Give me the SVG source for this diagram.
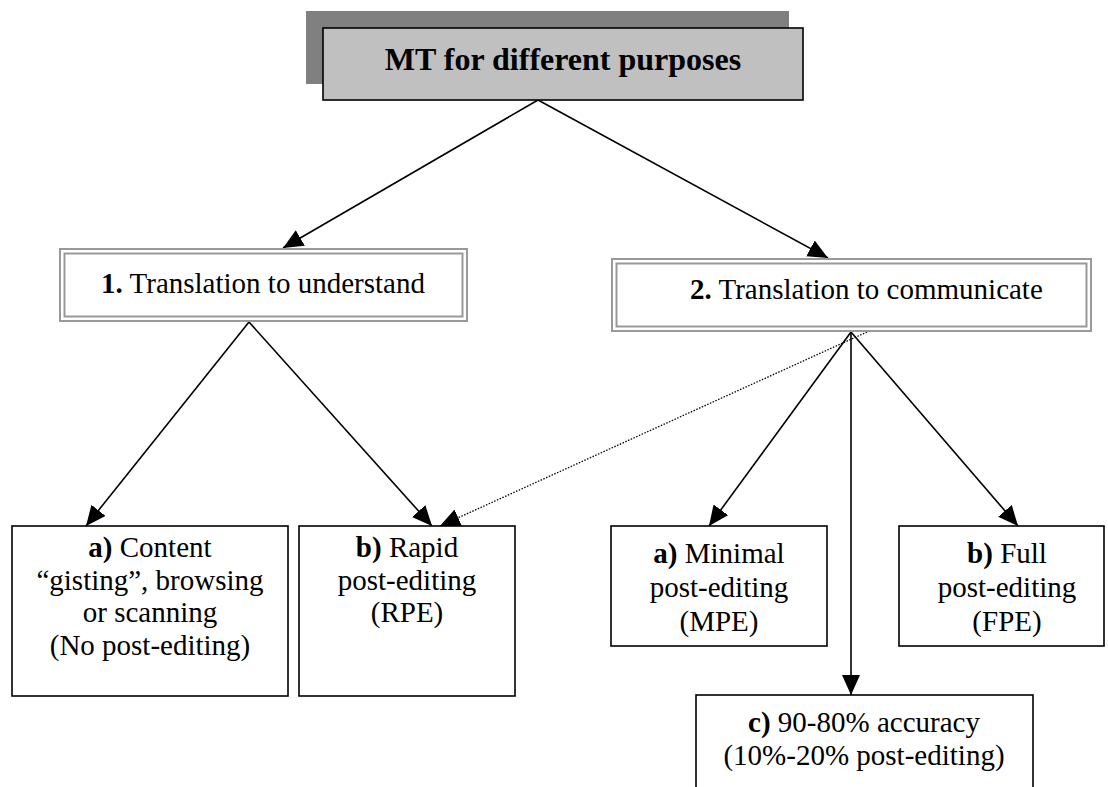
<svg xmlns="http://www.w3.org/2000/svg" width="1108" height="787" viewBox="0 0 1108 787">
<defs>
<style>
text{font-family:"Liberation Serif","Times New Roman",serif;font-size:29px;fill:#000;text-anchor:middle}
.b{font-weight:bold}
.box{fill:#fff;stroke:#000;stroke-width:1.6}
.dbl{fill:none;stroke:#999;stroke-width:2}
.ln{stroke:#000;stroke-width:1.6;fill:none}
.dot{stroke:#000;stroke-width:1.3;fill:none;stroke-dasharray:1.5 1.5}
</style>
<marker id="ah" markerUnits="userSpaceOnUse" markerWidth="22" markerHeight="20" refX="20" refY="9" orient="auto">
<path d="M0,0 L20,9 L0,18 Z" fill="#000"/>
</marker>
</defs>
<rect width="1108" height="787" fill="#fff"/>
<g id="connectors">
<line class="ln" x1="538" y1="100" x2="283" y2="248" marker-end="url(#ah)"/>
<line class="ln" x1="538" y1="100" x2="828" y2="258" marker-end="url(#ah)"/>
<line class="ln" x1="249" y1="322" x2="86" y2="526" marker-end="url(#ah)"/>
<line class="ln" x1="249" y1="322" x2="432" y2="526" marker-end="url(#ah)"/>
<line class="dot" x1="867" y1="332" x2="440" y2="526" marker-end="url(#ah)"/>
<line class="ln" x1="851" y1="332" x2="709" y2="526" marker-end="url(#ah)"/>
<line class="ln" x1="851" y1="332" x2="851" y2="695" marker-end="url(#ah)"/>
<line class="ln" x1="851" y1="332" x2="1018" y2="526" marker-end="url(#ah)"/>
</g>
<g id="top">
<rect x="306" y="11" width="483" height="73" fill="#808080"/>
<rect x="323" y="28" width="480" height="72" fill="#c0c0c0" stroke="#000" stroke-width="1.6"/>
<text x="563" y="70" class="b" style="font-size:32px">MT for different purposes</text>
</g>
<g id="n1">
<rect x="59" y="248" width="409" height="74" fill="#fff"/>
<rect class="dbl" x="60" y="249" width="407" height="72"/>
<rect class="dbl" x="64.5" y="253.5" width="398" height="63"/>
<text x="263" y="293"><tspan class="b">1.</tspan> Translation to understand</text>
</g>
<g id="n2">
<rect x="611" y="258" width="481" height="74" fill="#fff"/>
<rect class="dbl" x="612" y="259" width="479" height="72"/>
<rect class="dbl" x="616.5" y="263.5" width="470" height="63"/>
<text x="690" y="299" style="text-anchor:start"><tspan class="b">2.</tspan> Translation to communicate</text>
</g>
<g id="na">
<rect class="box" x="12" y="526" width="276" height="170"/>
<text x="150" y="557"><tspan class="b">a)</tspan> Content</text>
<text x="150" y="589.5">“gisting”, browsing</text>
<text x="150" y="622">or scanning</text>
<text x="150" y="654.5">(No post-editing)</text>
</g>
<g id="nb">
<rect class="box" x="299" y="526" width="216" height="170"/>
<text x="407" y="557"><tspan class="b">b)</tspan> Rapid</text>
<text x="407" y="589.5">post-editing</text>
<text x="407" y="622">(RPE)</text>
</g>
<g id="nmpe">
<rect class="box" x="611" y="526" width="216" height="120"/>
<text x="719" y="563"><tspan class="b">a)</tspan> Minimal</text>
<text x="719" y="597">post-editing</text>
<text x="719" y="631">(MPE)</text>
</g>
<g id="nfpe">
<rect class="box" x="899" y="526" width="205" height="120"/>
<text x="1007" y="563"><tspan class="b">b)</tspan> Full</text>
<text x="1007" y="597">post-editing</text>
<text x="1007" y="631">(FPE)</text>
</g>
<g id="nc">
<rect class="box" x="696" y="695" width="337" height="110"/>
<text x="864" y="732"><tspan class="b">c)</tspan> 90-80% accuracy</text>
<text x="864" y="765">(10%-20% post-editing)</text>
</g>
</svg>
